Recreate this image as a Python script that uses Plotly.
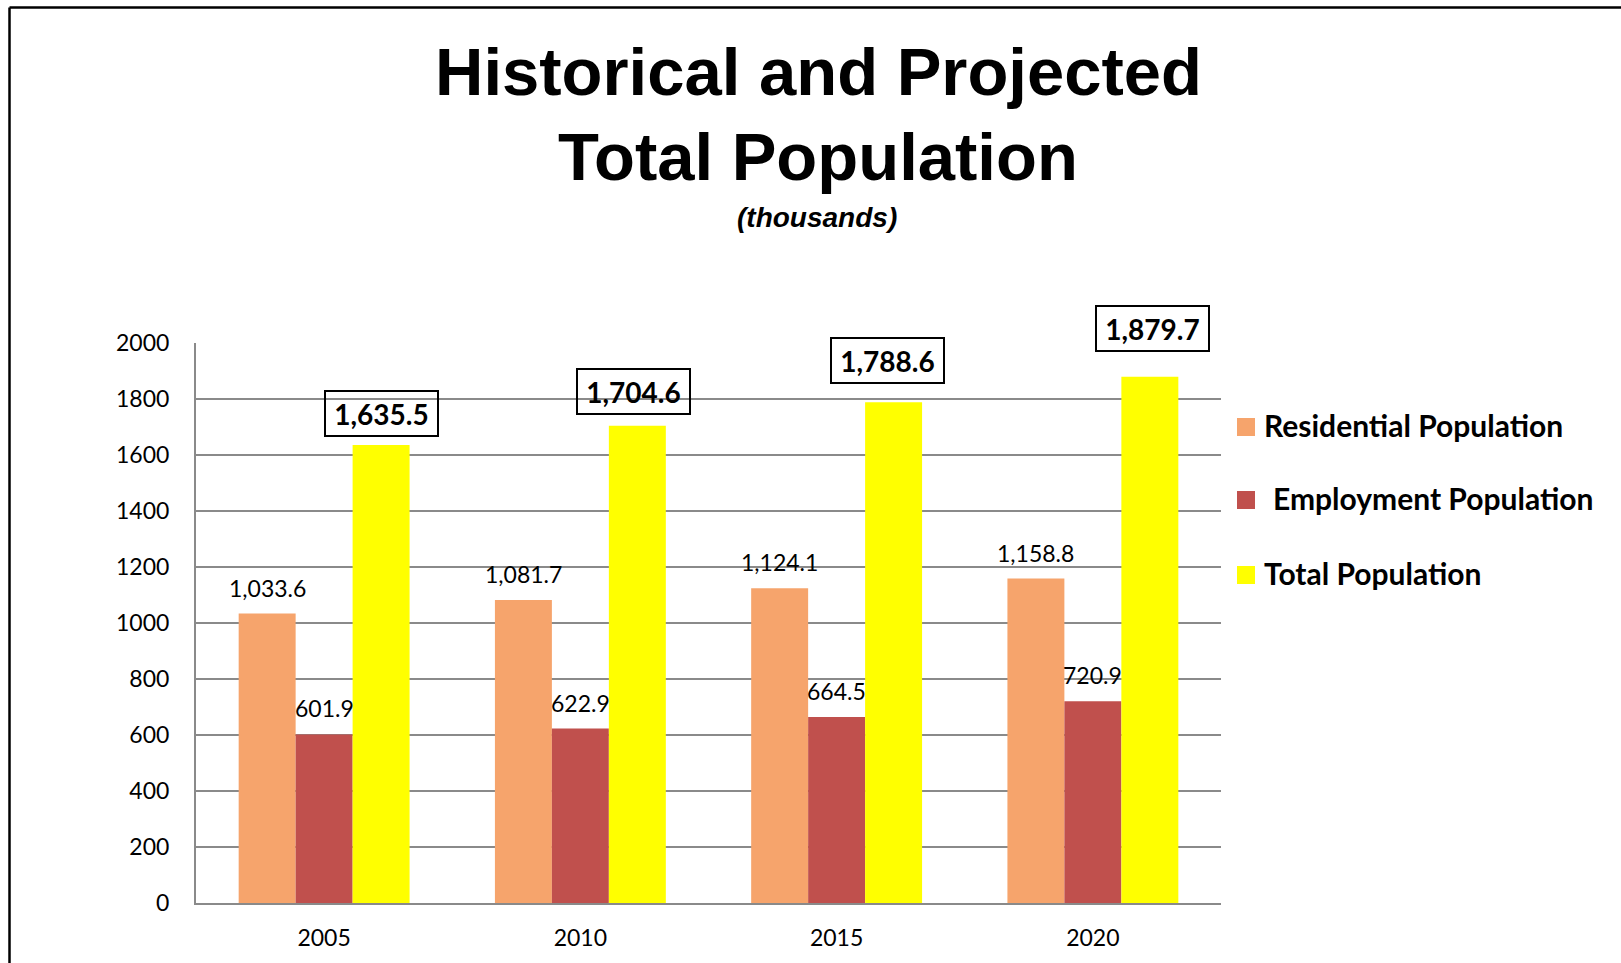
import plotly.graph_objects as go

# Data (thousands)
years = ["2005", "2010", "2015", "2020"]
residential = [1033.6, 1081.7, 1124.1, 1158.8]
employment = [601.9, 622.9, 664.5, 720.9]
total = [1635.5, 1704.6, 1788.6, 1879.7]

series_names = ["Residential Population", "Employment Population", "Total Population"]
colors = ["#F6A46C", "#C0504D", "#FFFF00"]

# Figure geometry in pixels
W, H = 1621, 963
ML, MR, MT, MB = 196, 400, 343, 60
PW, PH = W - ML - MR, H - MT - MB


def px_x(x):
    return (x - ML) / PW


def px_y(y):
    return (H - MB - y) / PH


BODY_FONT = "Lato"
TITLE_FONT = "Liberation Sans"

xpos = list(range(len(years)))

fig = go.Figure()
for name, vals, col in zip(series_names, [residential, employment, total], colors):
    fig.add_trace(go.Bar(
        x=xpos, y=vals, name=name, marker=dict(color=col, line=dict(width=0)),
        showlegend=False, customdata=years,
        hovertemplate="%{customdata}: %{y:,.1f}<extra>" + name + "</extra>",
    ))

annotations = []
shapes = []

# Plain value labels above residential and employment bars
bar_w = PW / len(years) * (1 - 0.333) / 3
for vals, shift in [(residential, -bar_w), (employment, 0)]:
    for xi, v in zip(xpos, vals):
        annotations.append(dict(
            x=xi, y=v, xref="x", yref="y", xshift=shift, yshift=10,
            text=f"{v:,.1f}", showarrow=False, yanchor="bottom", xanchor="center",
            font=dict(family=BODY_FONT, size=23, color="#000000"),
        ))

# Boxed labels above total bars (lift in px above the bar top, small x nudge)
box_lift = [32, 34, 42, 48]
box_nudge = [0, -4, -6, 3]
for xi, v, lift, dx in zip(xpos, total, box_lift, box_nudge):
    annotations.append(dict(
        x=xi, y=v, xref="x", yref="y", xshift=bar_w + dx, yshift=lift,
        text=f"<b>{v:,.1f}</b>", showarrow=False, yanchor="middle", xanchor="center",
        width=103, height=35, borderpad=4, borderwidth=2, bordercolor="#000000",
        font=dict(family=BODY_FONT, size=28, color="#000000"),
    ))

# Title lines and subtitle
annotations += [
    dict(x=px_x(818), y=px_y(72), xref="paper", yref="paper", showarrow=False,
         text="<b>Historical and Projected</b>", xanchor="center", yanchor="middle",
         font=dict(family=TITLE_FONT, size=67, color="#000000")),
    dict(x=px_x(818), y=px_y(156), xref="paper", yref="paper", showarrow=False,
         text="<b>Total Population</b>", xanchor="center", yanchor="middle",
         font=dict(family=TITLE_FONT, size=67, color="#000000")),
    dict(x=px_x(817), y=px_y(218), xref="paper", yref="paper", showarrow=False,
         text="<b><i>(thousands)</i></b>", xanchor="center", yanchor="middle",
         font=dict(family=TITLE_FONT, size=28, color="#000000")),
]

# Legend drawn as swatches and labels
legend_rows = [426, 499, 574]
legend_text_x = [1262, 1271, 1262]
for name, col, yc, tx in zip(series_names, colors, legend_rows, legend_text_x):
    shapes.append(dict(type="rect", xref="paper", yref="paper",
                       x0=px_x(1237), x1=px_x(1255), y0=px_y(yc - 8), y1=px_y(yc + 10),
                       fillcolor=col, line=dict(width=0)))
    annotations.append(dict(x=px_x(tx), y=px_y(yc - 1), xref="paper", yref="paper",
                            showarrow=False, text=f"<b>{name}</b>",
                            xanchor="left", yanchor="middle",
                            font=dict(family=BODY_FONT, size=30, color="#000000")))

# Outer frame (top and left edges)
shapes += [
    dict(type="line", xref="paper", yref="paper", x0=px_x(9.5), x1=px_x(W + 5),
         y0=px_y(7.5), y1=px_y(7.5), line=dict(color="#000000", width=2.5)),
    dict(type="line", xref="paper", yref="paper", x0=px_x(9.5), x1=px_x(9.5),
         y0=px_y(7.5), y1=px_y(H + 5), line=dict(color="#000000", width=2.5)),
]

fig.update_layout(
    width=W, height=H,
    margin=dict(l=ML, r=MR, t=MT, b=MB, pad=0, autoexpand=False),
    paper_bgcolor="#FFFFFF", plot_bgcolor="#FFFFFF",
    barmode="group", bargap=0.333, bargroupgap=0,
    annotations=annotations, shapes=shapes,
    showlegend=False,
    xaxis=dict(range=[-0.5, len(years) - 0.5], autorange=False, automargin=False,
               tickmode="array", tickvals=xpos, ticktext=years,
               showgrid=False, showline=True, linecolor="#8A8A8A",
               linewidth=2, ticks="", ticklabelstandoff=13, zeroline=False,
               tickfont=dict(family=BODY_FONT, size=23, color="#000000")),
    yaxis=dict(range=[0, 2000], autorange=False, automargin=False, dtick=200,
               showgrid=True, gridcolor="#8A8A8A", gridwidth=1.5, showline=True,
               linecolor="#8A8A8A", linewidth=2,
               zeroline=False, ticks="", ticklabelstandoff=20,
               tickfont=dict(family=BODY_FONT, size=23, color="#000000")),
)

fig.write_html("out.html")
